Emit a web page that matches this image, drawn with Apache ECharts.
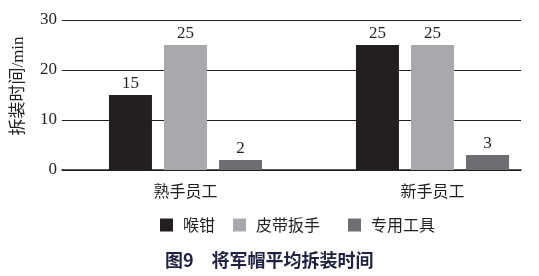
<!DOCTYPE html>
<html><head><meta charset="utf-8">
<script src="https://cdn.jsdelivr.net/npm/echarts@6/dist/echarts.min.js"></script>
<style>html,body{margin:0;padding:0;background:#fff}#c{width:539px;height:276px}</style>
</head><body><div id="c"></div>
<script>
const categories = ['熟手员工', '新手员工'];
const seriesNames = ['喉钳', '皮带扳手', '专用工具'];
const valuesHouqian = [15, 25];
const valuesPidai = [25, 25];
const valuesZhuanyong = [2, 3];
const yTicks = [0, 10, 20, 30];

const colors = ['#231f20', '#a7a9ac', '#6d6e71'];
const serif = "'Liberation Serif', 'Noto Sans CJK SC', serif";
const cjk = "'Noto Sans CJK SC', sans-serif";
const dataSets = [valuesHouqian, valuesPidai, valuesZhuanyong];

const chart = echarts.init(document.getElementById('c'), null, {renderer: 'canvas'});
chart.setOption({
  backgroundColor: '#fff',
  animation: false,
  title: {
    text: '图9　将军帽平均拆装时间',
    left: 160, top: 246,
    textStyle: {fontFamily: cjk, fontSize: 18, fontWeight: 'bold', color: '#1f2240'}
  },
  legend: seriesNames.map((n, i) => ({
    data: [n], left: [155, 228, 343][i], top: 212,
    itemWidth: 13, itemHeight: 13, icon: 'rect',
    textStyle: {fontFamily: cjk, fontSize: 16, color: '#231f20', padding: [0, 0, 0, 5]}
  })),
  grid: [
    {left: 62, top: 20, width: 459, height: 150, outerBoundsMode: 'none', containLabel: false},
    {left: 62, top: 20, width: 494, height: 150, outerBoundsMode: 'none', containLabel: false}
  ],
  xAxis: [
    {type: 'category', gridIndex: 0, data: categories,
     axisLine: {show: true, lineStyle: {color: '#231f20', width: 1.5}},
     axisTick: {show: false}, axisLabel: {show: false}},
    {type: 'category', gridIndex: 1, data: categories,
     axisLine: {show: false}, axisTick: {show: false},
     axisLabel: {margin: 13, fontFamily: cjk, fontSize: 16, color: '#231f20'}}
  ],
  yAxis: [
    {type: 'value', gridIndex: 0, min: yTicks[0], max: yTicks[yTicks.length - 1], interval: 10,
     name: '拆装时间/min', nameLocation: 'middle', nameGap: 35, nameRotate: 90,
     nameTextStyle: {fontFamily: serif, fontSize: 17, color: '#231f20', padding: [0, 0, 0, 18]},
     axisLine: {show: false}, axisTick: {show: false},
     axisLabel: {margin: 5, fontFamily: serif, fontSize: 17, color: '#231f20'},
     splitLine: {lineStyle: {color: '#231f20', width: 1}}},
    {type: 'value', gridIndex: 1, min: 0, max: 30, interval: 10, show: false,
     splitLine: {show: false}}
  ],
  series: seriesNames.map((n, i) => ({
    name: n, type: 'bar', xAxisIndex: 1, yAxisIndex: 1,
    data: dataSets[i], barWidth: 43, barGap: '28%',
    itemStyle: {color: colors[i]},
    label: {show: true, position: 'top', distance: 3, fontFamily: serif, fontSize: 17, color: '#231f20'}
  }))
});
</script></body></html>
